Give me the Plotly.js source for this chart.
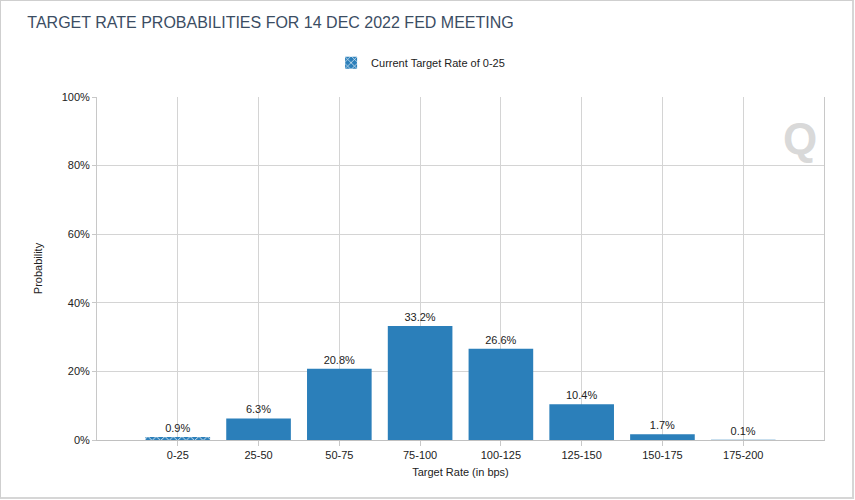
<!DOCTYPE html>
<html>
<head>
<meta charset="utf-8">
<script src="https://cdn.plot.ly/plotly-3.0.1.min.js"></script>
<style>
html,body{margin:0;padding:0;background:#fff;}
#frame{position:absolute;left:0;top:0;width:851px;height:496px;border:1px solid #cfcfcf;border-right:2px solid #d6d6d6;border-bottom:2px solid #d6d6d6;}
#chart{position:absolute;left:0;top:0;width:855px;height:500px;}
</style>
</head>
<body>
<div id="chart"></div>
<div id="frame"></div>
<script>
const categories = ['0-25','25-50','50-75','75-100','100-125','125-150','150-175','175-200'];
const probabilities = [0.9, 6.3, 20.8, 33.2, 26.6, 10.4, 1.7, 0.1];
const currentCategory = '0-25';
const yTickVals = [0, 20, 40, 60, 80, 100];
const yTickText = ['0%', '20%', '40%', '60%', '80%', '100%'];

const barColor = '#2b7fba';
const curIdx = categories.indexOf(currentCategory);
const otherX = categories.filter((c, i) => i !== curIdx);
const otherY = probabilities.filter((v, i) => i !== curIdx);
const fmt = v => v.toFixed(1) + '%';

const traces = [
  {
    type: 'bar',
    x: [currentCategory],
    y: [probabilities[curIdx]],
    name: 'Current Target Rate of 0-25',
    width: 0.8,
    marker: {color: barColor, line: {width: 0}, pattern: {shape: 'x', fgcolor: '#ffffff', bgcolor: barColor, size: 6, solidity: 0.25}},
    text: [fmt(probabilities[curIdx])],
    textposition: 'outside',
    cliponaxis: false,
    textfont: {family: 'Liberation Sans, Arial, sans-serif', size: 11, color: '#222'},
    hoverinfo: 'x+y',
    showlegend: true
  },
  {
    type: 'bar',
    x: otherX,
    y: otherY,
    name: 'Probability',
    width: 0.8,
    marker: {color: barColor, line: {width: 0}},
    text: otherY.map(fmt),
    textposition: 'outside',
    cliponaxis: false,
    textfont: {family: 'Liberation Sans, Arial, sans-serif', size: 11, color: '#222'},
    hoverinfo: 'x+y',
    showlegend: false
  }
];

const layout = {
  width: 855,
  height: 500,
  margin: {l: 97, r: 31, t: 97, b: 60},
  paper_bgcolor: '#ffffff',
  plot_bgcolor: '#ffffff',
  barmode: 'overlay',
  font: {family: 'Liberation Sans, Arial, sans-serif', size: 11, color: '#222'},
  title: {
    text: 'TARGET RATE PROBABILITIES FOR 14 DEC 2022 FED MEETING',
    x: 0.032, xanchor: 'left', y: 0.955, yanchor: 'middle',
    font: {family: 'Liberation Sans, Arial, sans-serif', size: 16, color: '#3b4d63'}
  },
  legend: {
    orientation: 'h', x: 0.322, xanchor: 'left', y: 1.10, yanchor: 'middle',
    font: {size: 11, color: '#222'}, bgcolor: 'rgba(0,0,0,0)', itemwidth: 30
  },
  xaxis: {
    type: 'category',
    categoryorder: 'array',
    categoryarray: categories,
    range: [-1, 8],
    showgrid: true,
    gridcolor: '#d4d4d4',
    gridwidth: 1,
    ticks: 'outside',
    ticklen: 5,
    tickcolor: '#c8c8c8',
    showline: true,
    linecolor: '#c0c0c0',
    linewidth: 1,
    zeroline: false,
    tickfont: {size: 11, color: '#222'},
    title: {text: 'Target Rate (in bps)', font: {size: 11, color: '#222'}, standoff: 8},
    fixedrange: true
  },
  yaxis: {
    range: [0, 100],
    tickvals: yTickVals,
    ticktext: yTickText,
    showgrid: true,
    gridcolor: '#d4d4d4',
    gridwidth: 1,
    ticks: 'outside',
    ticklen: 4,
    tickcolor: '#c8c8c8',
    showline: true,
    mirror: true,
    linecolor: '#c8c8c8',
    linewidth: 1,
    zeroline: false,
    tickfont: {size: 11, color: '#222'},
    title: {text: 'Probability', font: {size: 11, color: '#222'}, standoff: 16},
    fixedrange: true
  },
  annotations: [
    {
      xref: 'paper', yref: 'paper', x: 0.967, y: 0.878, xanchor: 'center', yanchor: 'middle',
      text: '<b>Q</b>', showarrow: false,
      font: {family: 'Liberation Sans, Arial, sans-serif', size: 44, color: 'rgba(200,200,200,0.7)'}
    }
  ]
};

Plotly.newPlot('chart', traces, layout, {displayModeBar: false, staticPlot: true});
</script>
</body>
</html>
